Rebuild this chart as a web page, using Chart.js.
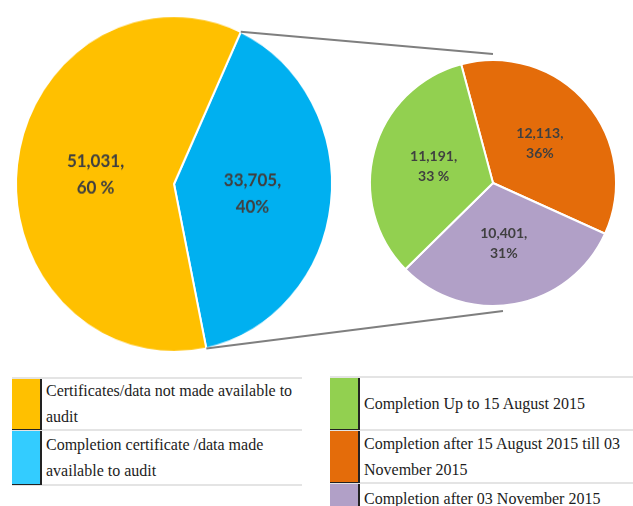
<!DOCTYPE html>
<html>
<head>
<meta charset="utf-8">
<script src="https://cdn.jsdelivr.net/npm/chart.js@4"></script>
<style>
  body { margin: 0; background: #fff; width: 633px; height: 506px; overflow: hidden; position: relative; }
  canvas { position: absolute; left: 0; top: 0; }
  #main { transform-origin: 0 184px; transform: scaleY(1.063); }
  .legend { position: absolute; border-top: 2px solid #e4e4e4; font-family: "Liberation Serif", serif; font-size: 16px; color: #1c1c1c; }
  .row { display: flex; border-bottom: 2px solid #e4e4e4; }
  .swatch { width: 28px; flex: none; border-right: 2px solid #222; border-bottom: 1px solid #222; margin-bottom: -1px; }
  .txt { padding: 3px 0 3px 4px; line-height: 26px; display: flex; align-items: center; }
</style>
</head>
<body>
<canvas id="main" width="633" height="360"></canvas>
<canvas id="sub" width="633" height="360"></canvas>
<div class="legend" id="legLeft" style="left:12px; top:377px; width:290px;"></div>
<div class="legend" id="legRight" style="left:330px; top:376px; width:310px;"></div>
<script>
// main pie (blue first so rotation lines up with the picture)
var mainLabels = ['Completion certificate /data made available to audit', 'Certificates/data not made available to audit'];
var mainValues = [33705, 51031];
var mainText = [['33,705,', '40%'], ['51,031,', '60 %']];
var mainColors = ['#00B0F0', '#FFC000'];

// second pie: split of the blue slice
var subLabels = ['Completion after 15 August 2015 till 03 November 2015', 'Completion after 03 November 2015', 'Completion Up to 15 August 2015'];
var subValues = [12113, 10401, 11191];
var subText = [['12,113,', '36%'], ['10,401,', '31%'], ['11,191,', '33 %']];
var subColors = ['#E46C0A', '#B1A0C7', '#92D050'];

// legend order as in the picture
var leftLegend = [
    { color: '#FFC000', text: 'Certificates/data not made available to audit', h: 50 },
    { color: '#33CCFF', text: 'Completion certificate /data made available to audit', h: 53 }
];
var rightLegend = [
    { color: '#92D050', text: 'Completion Up to 15 August 2015', h: 51 },
    { color: '#E46C0A', text: 'Completion after 15 August 2015 till 03 November 2015', h: 51 },
    { color: '#B1A0C7', text: 'Completion after 03 November 2015', h: 30 }
];

var mainScaleY = 1.063, mainOriginY = 184;

function buildLegend(id, items) {
    var box = document.getElementById(id);
    items.forEach(function(it) {
        var row = document.createElement('div');
        row.className = 'row';
        row.style.height = it.h + 'px';
        var sw = document.createElement('div');
        sw.className = 'swatch';
        sw.style.background = it.color;
        var t = document.createElement('div');
        t.className = 'txt';
        t.textContent = it.text;
        row.appendChild(sw);
        row.appendChild(t);
        box.appendChild(row);
    });
}
buildLegend('legLeft', leftLegend);
buildLegend('legRight', rightLegend);

// draws the two-line value labels inside each slice
function sliceLabels(texts, fontSize, lineH) {
    return {
        id: 'sliceLabels',
        afterDatasetsDraw: function(chart) {
            var ctx = chart.ctx;
            var arcs = chart.getDatasetMeta(0).data;
            ctx.save();
            ctx.font = 'bold ' + fontSize + 'px Lato, "Open Sans", sans-serif';
            ctx.fillStyle = '#404040';
            ctx.textAlign = 'center';
            ctx.textBaseline = 'middle';
            arcs.forEach(function(arc, i) {
                var mid = (arc.startAngle + arc.endAngle) / 2;
                var r = arc.outerRadius * 0.5;
                var x = arc.x + Math.cos(mid) * r;
                var y = arc.y + Math.sin(mid) * r;
                var lines = texts[i];
                lines.forEach(function(s, k) {
                    ctx.fillText(s, x, y + (k - (lines.length - 1) / 2) * lineH);
                });
            });
            ctx.restore();
        }
    };
}

var mainChart = new Chart(document.getElementById('main').getContext('2d'), {
    type: 'pie',
    data: {
        labels: mainLabels,
        datasets: [{ data: mainValues, backgroundColor: mainColors, borderColor: '#fff', borderWidth: 2 }]
    },
    options: {
        responsive: false,
        animation: false,
        rotation: 25,
        layout: { padding: { left: 15, right: 300, top: 25, bottom: 17 } },
        plugins: { legend: { display: false }, tooltip: { enabled: false } }
    },
    plugins: [sliceLabels(mainText, 17, 25)]
});

// connector lines from the blue slice edges to the second pie
var connectors = {
    id: 'connectors',
    afterDatasetsDraw: function(chart) {
        var blue = mainChart.getDatasetMeta(0).data[0];
        var ref = chart.getDatasetMeta(0).data[0];
        var ctx = chart.ctx;
        function edge(a) {
            var y = blue.y + Math.sin(a) * blue.outerRadius;
            return { x: blue.x + Math.cos(a) * blue.outerRadius, y: mainOriginY + (y - mainOriginY) * mainScaleY };
        }
        var p1 = edge(blue.startAngle), p2 = edge(blue.endAngle);
        ctx.save();
        ctx.strokeStyle = '#7f7f7f';
        ctx.lineWidth = 2;
        ctx.beginPath();
        ctx.moveTo(p1.x, p1.y);
        ctx.lineTo(ref.x, ref.y - ref.outerRadius - 6);
        ctx.moveTo(p2.x, p2.y);
        ctx.lineTo(ref.x + 10, ref.y + ref.outerRadius + 5);
        ctx.stroke();
        ctx.restore();
    }
};

var subChart = new Chart(document.getElementById('sub').getContext('2d'), {
    type: 'pie',
    data: {
        labels: subLabels,
        datasets: [{ data: subValues, backgroundColor: subColors, borderColor: '#fff', borderWidth: 2 }]
    },
    options: {
        responsive: false,
        animation: false,
        rotation: -15,
        layout: { padding: { left: 369, right: 16, top: 59, bottom: 53 } },
        plugins: { legend: { display: false }, tooltip: { enabled: false } }
    },
    plugins: [sliceLabels(subText, 14, 20), connectors]
});
</script>
</body>
</html>
